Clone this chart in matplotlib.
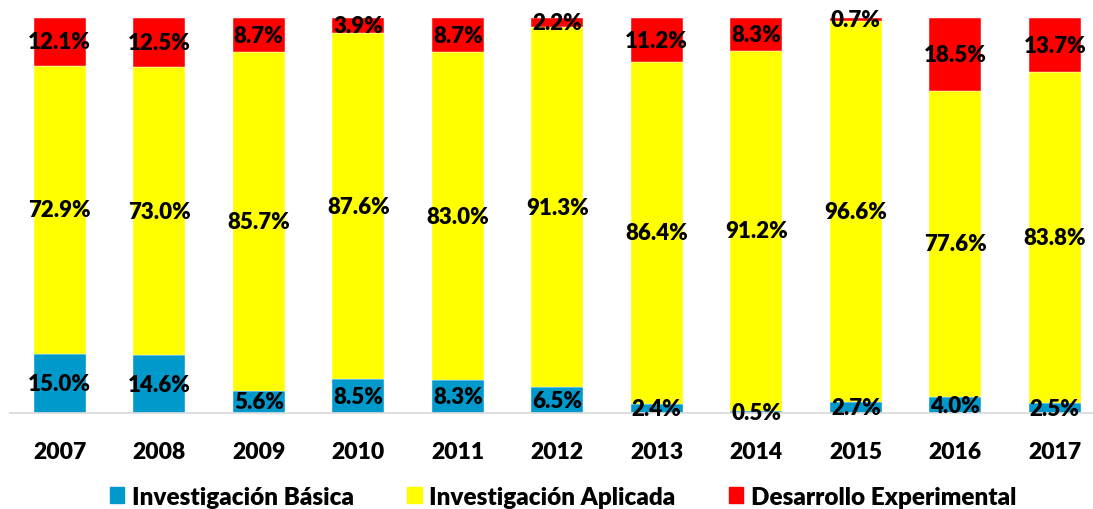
import matplotlib
matplotlib.use('Agg')
import matplotlib.pyplot as plt
import matplotlib.patches as mpatches
import numpy as np

plt.rcParams['font.family'] = ['Lato', 'DejaVu Sans']

years = ['2007', '2008', '2009', '2010', '2011', '2012', '2013', '2014', '2015', '2016', '2017']
basica = [15.0, 14.6, 5.6, 8.5, 8.3, 6.5, 2.4, 0.5, 2.7, 4.0, 2.5]
aplicada = [72.9, 73.0, 85.7, 87.6, 83.0, 91.3, 86.4, 91.2, 96.6, 77.6, 83.8]
desarrollo = [12.1, 12.5, 8.7, 3.9, 8.7, 2.2, 11.2, 8.3, 0.7, 18.5, 13.7]

series = [
    ('Investigación Básica', basica, '#0099CC'),
    ('Investigación Aplicada', aplicada, '#FFFF00'),
    ('Desarrollo Experimental', desarrollo, '#FF0000'),
]

LABEL_FS = 16
WEIGHT = 'heavy'

fig = plt.figure(figsize=(10.93, 5.10), dpi=100)
ax = fig.add_axes([10 / 1093, 96 / 510, 1083 / 1093, 395 / 510])

x = np.arange(len(years))
bottom = np.zeros(len(years))
for name, vals, color in series:
    vals = np.array(vals)
    ax.bar(x, vals, bottom=bottom, width=0.52, color=color, label=name,
           edgecolor='white', linewidth=0.3)
    for xi, b, v in zip(x, bottom, vals):
        ax.text(xi, b + v / 2, f'{v:.1f}%', ha='center', va='center',
                fontsize=LABEL_FS, fontweight=WEIGHT, color='black', clip_on=False)
    bottom = bottom + vals

ax.set_xlim(-0.5, -0.5 + 1083 / 99.5)
ax.set_ylim(0, 100)
ax.set_yticks([])
ax.set_xticks(x)
ax.set_xticklabels(years, fontsize=16.5, fontweight=WEIGHT)
ax.tick_params(axis='x', length=0, pad=20)
for s in ['top', 'right', 'left']:
    ax.spines[s].set_visible(False)
ax.spines['bottom'].set_color('#D9D9D9')
ax.spines['bottom'].set_linewidth(1.2)

handles = [mpatches.Patch(color=c, label=n) for n, _, c in series]
fig.legend(handles=handles, loc='center', bbox_to_anchor=(0.515, 0.024),
           ncol=3, frameon=False, prop={'size': 17.5, 'weight': WEIGHT},
           handlelength=0.6, handleheight=0.6, handletextpad=0.3, columnspacing=2.2)

fig.savefig('out.png', dpi=100)
